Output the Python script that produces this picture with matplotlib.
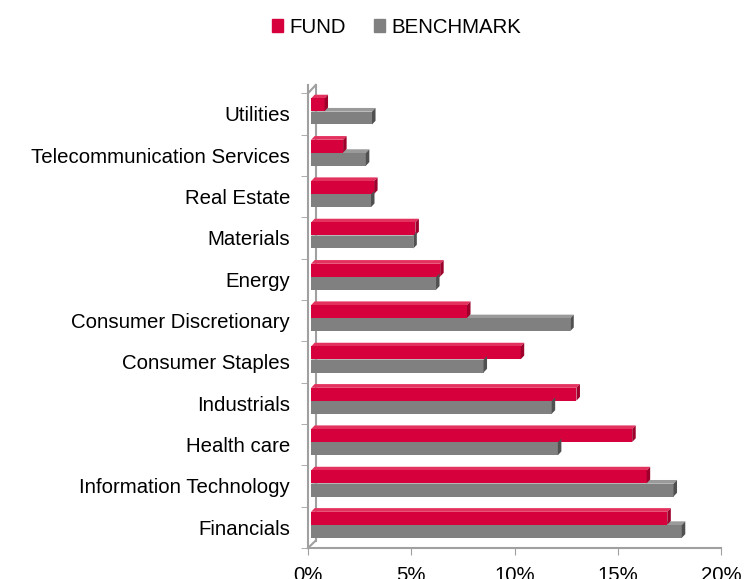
import numpy as np
import matplotlib.pyplot as plt
from matplotlib.patches import Polygon, Patch

plt.rcParams['font.family'] = ['Liberation Sans', 'DejaVu Sans']

# sectors, bottom to top
sectors = ["Financials", "Information Technology", "Health care", "Industrials",
           "Consumer Staples", "Consumer Discretionary", "Energy", "Materials",
           "Real Estate", "Telecommunication Services", "Utilities"]
fund = [17.4, 16.4, 15.7, 13.0, 10.3, 7.7, 6.4, 5.2, 3.2, 1.7, 0.8]
benchmark = [18.1, 17.7, 12.1, 11.8, 8.5, 12.7, 6.2, 5.1, 3.05, 2.8, 3.1]
xticks = [0, 5, 10, 15, 20]

red, red_side, red_top = "#D6003D", "#9E002C", "#E4325F"
grey, grey_side, grey_top = "#808080", "#505050", "#9A9A9A"

fig = plt.figure(figsize=(7.45, 5.79), dpi=100)
ax = fig.add_axes([308 / 745, 1 - 548 / 579, 413 / 745, 463 / 579])

y = np.arange(len(sectors))
h = 0.31
dx, dy = 0.17, 0.09  # fake depth, data units
x0 = 0.15  # bars sit a little off the front axis


def bars3d(pos, vals, front, side, top):
    ax.barh(pos, np.array(vals) - x0, left=x0, height=h, color=front, zorder=3)
    for p, v in zip(pos, vals):
        y0, y1 = p - h / 2, p + h / 2
        ax.add_patch(Polygon([(v, y0), (v + dx, y0 + dy), (v + dx, y1 + dy), (v, y1)],
                             closed=True, color=side, zorder=3, lw=0))
        ax.add_patch(Polygon([(x0, y1), (x0 + dx, y1 + dy), (v + dx, y1 + dy), (v, y1)],
                             closed=True, color=top, zorder=2, lw=0))


bars3d(y + 0.22, fund, red, red_side, red_top)
bars3d(y - 0.10, benchmark, grey, grey_side, grey_top)

fs = 14.7
ax.set_xlim(0, 20)
ax.set_ylim(-0.5, 10.7)
ax.set_xticks(xticks)
ax.set_xticklabels([f"{t}%" for t in xticks], fontsize=fs)
ax.set_yticks(y)
ax.set_yticklabels(sectors, fontsize=fs)
ax.tick_params(axis='y', length=0, pad=13)
ax.tick_params(axis='x', length=5, color="#A0A0A0", pad=8)
ax.set_yticks(np.arange(-0.5, 10.6, 1), minor=True)
ax.tick_params(axis='y', which='minor', length=5, color="#A0A0A0")

for s in ["top", "right"]:
    ax.spines[s].set_visible(False)
for s in ["left", "bottom"]:
    ax.spines[s].set_color("#A0A0A0")
    ax.spines[s].set_linewidth(1.5)

# back wall of the fake 3D frame
ax.plot([dx * 2.2, dx * 2.2], [-0.5 + dy * 2, 10.7], color="#A0A0A0", lw=1.5, zorder=1,
        clip_on=False)
ax.plot([0, dx * 2.2], [-0.5, -0.5 + dy * 2], color="#A0A0A0", lw=1.5, clip_on=False)
ax.plot([0, dx * 2.2], [10.5, 10.7], color="#A0A0A0", lw=1.5, clip_on=False)

# legend
handles = [Patch(color=red, label="FUND"), Patch(color=grey, label="BENCHMARK")]
fig.legend(handles=handles, loc="center", bbox_to_anchor=(0.532, 0.953), ncol=2,
           frameon=False, fontsize=fs, handlelength=0.55, handleheight=0.55,
           handletextpad=0.3, columnspacing=1.4)

fig.savefig("out.png", dpi=100)
